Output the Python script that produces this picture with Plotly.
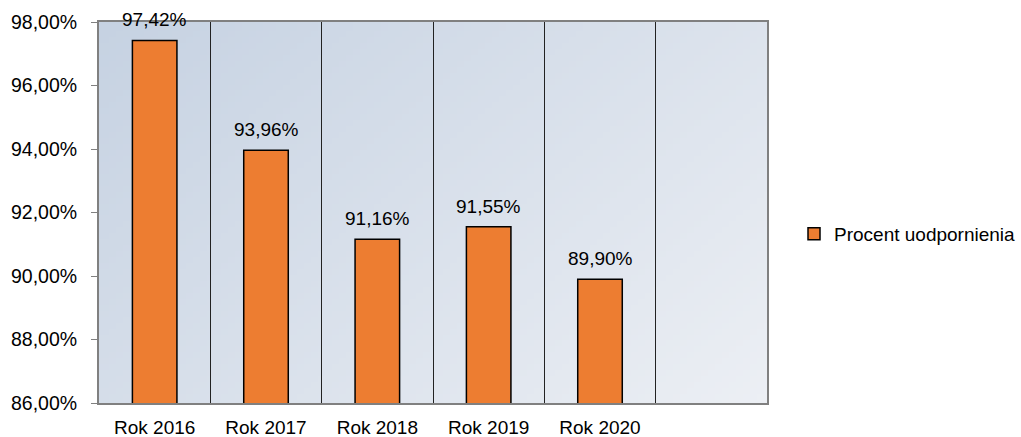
import base64, struct, zlib
import plotly.graph_objects as go

categories = ["Rok 2016", "Rok 2017", "Rok 2018", "Rok 2019", "Rok 2020", " "]
values = [97.42, 93.96, 91.16, 91.55, 89.90]
labels = ["97,42%", "93,96%", "91,16%", "91,55%", "89,90%"]
series_name = "Procent uodpornienia"

# diagonal gradient background (PNG built in memory)
def gradient_png(w=96, h=64, c0=(198, 210, 226), c1=(236, 239, 244)):
    rows = b""
    for j in range(h):
        row = b"\x00"
        for i in range(w):
            t = (i / (w - 1) * 0.6 + j / (h - 1) * 0.4)
            px = bytes(int(round(a + (b - a) * t)) for a, b in zip(c0, c1))
            row += px
        rows += row
    def chunk(tag, data):
        c = struct.pack(">I", len(data)) + tag + data
        return c + struct.pack(">I", zlib.crc32(tag + data) & 0xffffffff)
    png = b"\x89PNG\r\n\x1a\n" + chunk(b"IHDR", struct.pack(">IIBBBBB", w, h, 8, 2, 0, 0, 0))
    png += chunk(b"IDAT", zlib.compress(rows)) + chunk(b"IEND", b"")
    return "data:image/png;base64," + base64.b64encode(png).decode()

font = "Liberation Sans, Arial, sans-serif"

fig = go.Figure()
fig.add_trace(go.Bar(
    x=categories[:len(values)], y=values, name=series_name,
    marker=dict(color="#ED7D31", line=dict(color="#000000", width=1.5)),
    width=0.4, showlegend=True,
))

for c, v, t in zip(categories, values, labels):
    fig.add_annotation(x=c, y=v, text=t, showarrow=False, yanchor="bottom",
                       yshift=8, font=dict(family=font, size=19, color="#000"))

fig.update_layout(
    width=1021, height=437,
    margin=dict(l=99, r=254, t=22, b=34),
    paper_bgcolor="white", plot_bgcolor="rgba(0,0,0,0)",
    separators=", ",
    font=dict(family=font, size=19, color="#000"),
    showlegend=True,
    legend=dict(xref="container", yref="container", x=1.004, y=0.465,
                xanchor="right", yanchor="middle",
                font=dict(family=font, size=19), itemwidth=30,
                bgcolor="rgba(0,0,0,0)"),
    images=[dict(source=gradient_png(), xref="paper", yref="paper", x=0, y=1,
                 sizex=1, sizey=1, sizing="stretch", layer="below")],
    bargap=0.6,
)
fig.update_xaxes(
    type="category", categoryorder="array", categoryarray=categories,
    range=[-0.5, 5.5], tickson="boundaries", showgrid=True,
    gridcolor="#222222", gridwidth=1, ticks="",
    showline=True, linecolor="#808080", linewidth=2, mirror=True,
    tickfont=dict(family=font, size=19), zeroline=False,
    automargin=False, ticklabelstandoff=6,
)
fig.update_yaxes(
    range=[86, 98], dtick=2, tickformat=".2f", ticksuffix="%",
    showgrid=False, zeroline=False, ticks="outside", ticklen=6,
    tickcolor="#808080", showline=True, linecolor="#808080", linewidth=2,
    mirror=True, tickfont=dict(family=font, size=19.5),
    automargin=False, ticklabelstandoff=10,
)

fig.write_html("out.html", config={"displayModeBar": False},
               post_script="document.body.style.margin='0';document.body.style.overflow='hidden';")
